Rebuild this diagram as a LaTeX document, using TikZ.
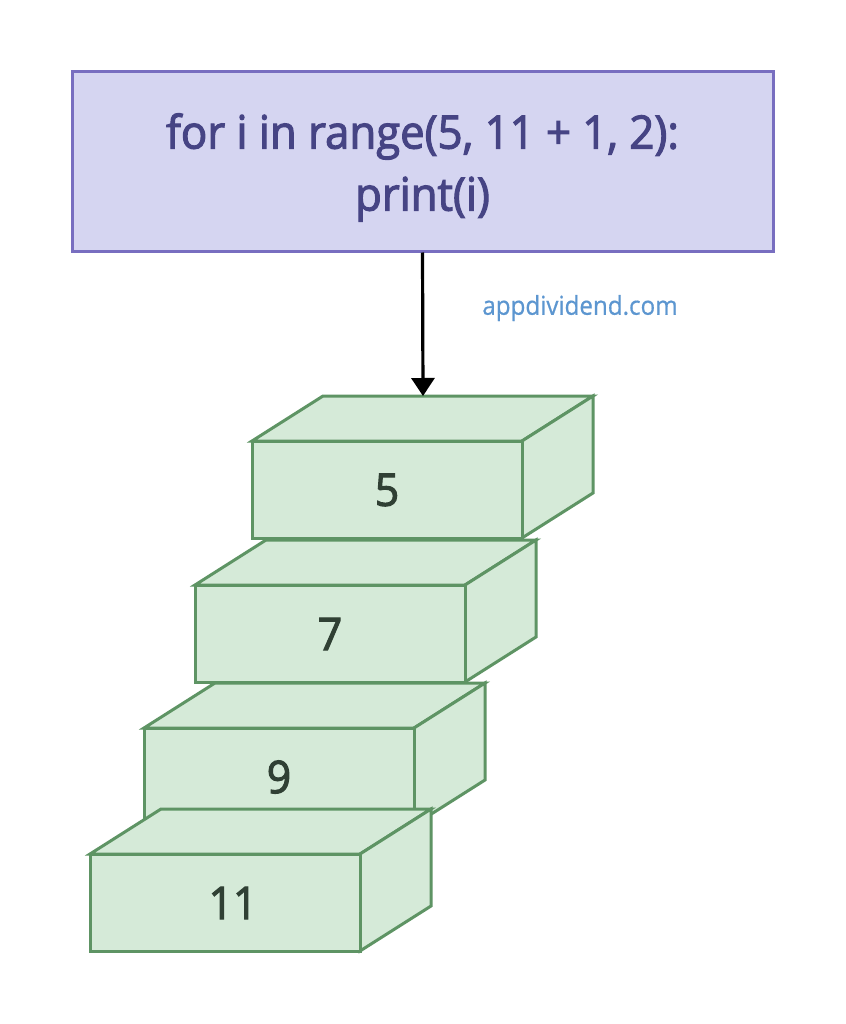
\documentclass[tikz,border=0pt]{standalone}
\usepackage{fontspec}
\setmainfont{Open Sans}
\newfontfamily\diafont[FakeStretch=0.95,FakeBold=2.4]{Open Sans}
\newfontfamily\sitefont[FakeStretch=0.93,FakeBold=0.6]{Open Sans}
\usetikzlibrary{arrows.meta}
\definecolor{topfill}{RGB}{213,213,241}
\definecolor{topline}{RGB}{120,110,192}
\definecolor{toptext}{RGB}{70,68,132}
\definecolor{cubfill}{RGB}{213,234,216}
\definecolor{cubline}{RGB}{94,148,100}
\definecolor{cubtext}{RGB}{48,64,52}
\definecolor{sitecol}{RGB}{92,150,208}
\tikzset{
  topbox/.style={draw=topline, fill=topfill, line width=3pt, minimum width=701pt,
    minimum height=179pt, inner sep=0pt},
  codetext/.style={align=center, text=toptext, inner sep=0pt,
    font=\diafont\fontsize{46}{62}\selectfont},
  cub/.style={draw=cubline, fill=cubfill, line width=3pt, line join=miter},
  cubfront/.style={cub, minimum width=270pt, minimum height=97pt, inner sep=0pt,
    text=cubtext, font=\diafont\fontsize{45}{50}\selectfont},
  site/.style={text=sitecol, font=\sitefont\fontsize{26}{30}\selectfont, inner sep=0pt},
  arrowline/.style={draw=black, line width=3.2pt, -{Triangle[width=23pt,length=18pt]}}
}
\newcommand\mycuboid[5][0pt]{%
  \begin{scope}[shift={(#3,#4)}]
    \filldraw[cub] (0,0) -- (71,-45) -- (341,-45) -- (270,0) -- cycle;
    \filldraw[cub] (270,0) -- (341,-45) -- (341,52) -- (270,97) -- cycle;
    \node[cubfront] (#2) at (135,49) {\kern#1#5};
    \coordinate (#2-top) at (171,-45);
  \end{scope}}
\begin{document}
\begin{tikzpicture}[x=1pt,y=-1pt]
\useasboundingbox (0,0) rectangle (845,1024);
\fill[white] (0,0) rectangle (845,1024);
\node[topbox] (loop) at (422.5,161.5) {};
\node[codetext] (code) at ([yshift=-6pt]loop.center) {for i in range(5, 11 + 1, 2):\\print(i)};
\node[site] (site) at (580,308) {appdividend.com};
\mycuboid{b5}{252}{441}{5}
\mycuboid{b7}{195}{585}{7}
\mycuboid{b9}{144}{728}{9}
\mycuboid[16pt]{b11}{90}{854}{11}
\draw[arrowline] (loop.south) -- (b5-top);
\end{tikzpicture}
\end{document}
